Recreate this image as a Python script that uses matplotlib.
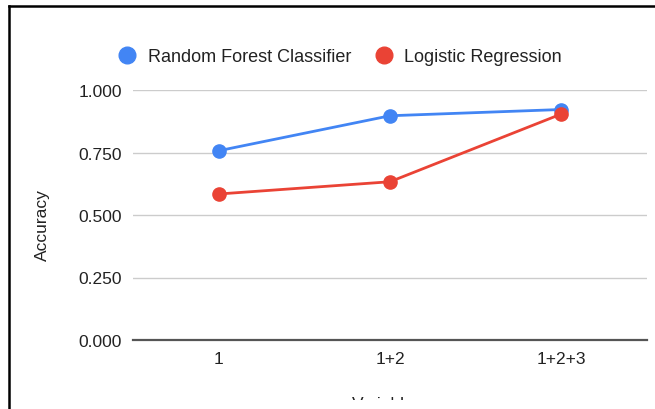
import matplotlib.pyplot as plt
from matplotlib.lines import Line2D
from matplotlib.patches import Rectangle

# data
variables = ['1', '1+2', '1+2+3']
random_forest = [0.757, 0.897, 0.922]
logistic_regression = [0.584, 0.633, 0.904]

blue = '#4285F4'
red = '#EA4335'
text_col = '#222222'

plt.rcParams['font.family'] = ['Liberation Sans', 'DejaVu Sans']

fig = plt.figure(figsize=(6.55, 4.10), dpi=100)
ax = fig.add_axes([133 / 655, 1 - 341 / 410, 514 / 655, 250 / 410])

x = list(range(len(variables)))
ax.plot(x, random_forest, color=blue, lw=2.0, marker='o', markersize=9.5,
        label='Random Forest Classifier', zorder=3)
ax.plot(x, logistic_regression, color=red, lw=2.0, marker='o', markersize=9.5,
        label='Logistic Regression', zorder=3)

ax.set_xlim(-0.5, len(variables) - 0.5)
ax.set_ylim(0, 1)
ax.set_yticks([0, 0.25, 0.5, 0.75, 1.0])
ax.set_yticklabels(['0.000', '0.250', '0.500', '0.750', '1.000'])
ax.set_xticks(x)
ax.set_xticklabels(variables)
ax.tick_params(length=0, labelsize=12.5, labelcolor=text_col)
ax.tick_params(axis='y', pad=8)
ax.tick_params(axis='x', pad=8)

ax.grid(axis='y', color='#cccccc', lw=1.0)
ax.set_axisbelow(True)
for s in ['top', 'right', 'left', 'bottom']:
    ax.spines[s].set_visible(False)
ax.axhline(0, color='#555555', lw=1.6, zorder=2, clip_on=False)

ax.set_ylabel('Accuracy', fontsize=12.5, color=text_col)
ax.yaxis.set_label_coords(-(133 - 50) / 514, 0.465)

# x label is cut off at the bottom in the reference
fig.text(388 / 655, 1 - 409 / 410, 'Variables', ha='center', va='baseline',
         fontsize=12.5, color=text_col)
fig.add_artist(Rectangle((11 / 655, 0), 1, 9 / 410, transform=fig.transFigure,
                         facecolor='white', edgecolor='none', zorder=10))

handles = [
    Line2D([], [], ls='none', marker='o', markersize=12, color=blue),
    Line2D([], [], ls='none', marker='o', markersize=12, color=red),
]
fig.legend(handles, ['Random Forest Classifier', 'Logistic Regression'],
           loc='center', bbox_to_anchor=(340 / 655, 1 - 58 / 410), ncol=2,
           frameon=False, fontsize=13, handletextpad=0.65, columnspacing=1.3,
           handlelength=1.0, labelcolor=text_col)

# frame of the screenshot (top and left edges only visible)
fig.add_artist(Line2D([9 / 655, 1], [1 - 7 / 410, 1 - 7 / 410],
                      transform=fig.transFigure, color='black', lw=1.8, zorder=11))
fig.add_artist(Line2D([9 / 655, 9 / 655], [0, 1 - 7 / 410],
                      transform=fig.transFigure, color='black', lw=1.8, zorder=11))

fig.savefig('out.png', dpi=100)
